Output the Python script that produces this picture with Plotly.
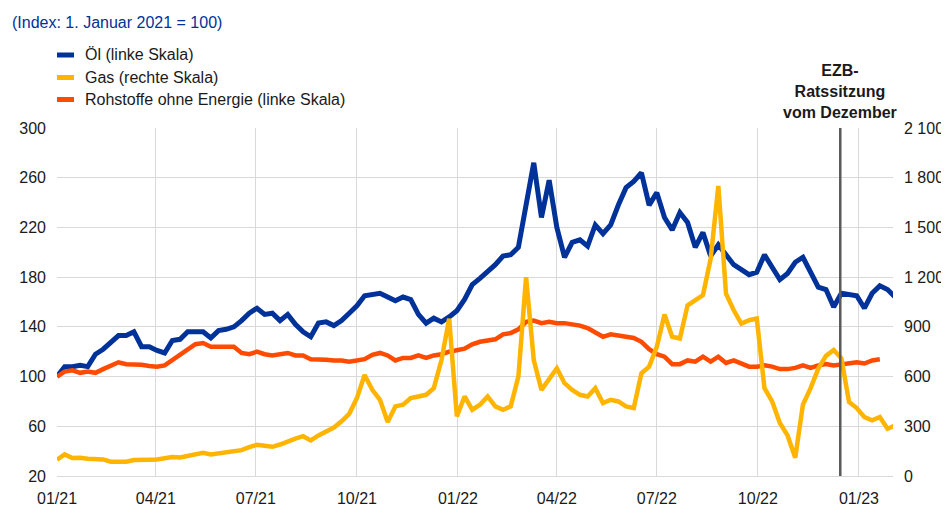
import pandas as pd
import plotly.graph_objects as go

# ---- data (weekly readings, index 1 Jan 2021 = 100) ----
dates = pd.date_range("2021-01-01", periods=110, freq="7D")

oil = [100, 108, 108, 109, 108, 118, 122, 127, 133, 133,
       136, 124, 124, 121, 119, 129, 130, 136, 136, 136,
       131, 137, 138, 140, 145, 151, 155, 150, 151, 145,
       150, 142, 136, 132, 143, 144, 141, 145, 151, 157,
       165, 166, 167, 164, 161, 164, 162, 150, 143, 147,
       144, 148, 153, 162, 174, 179, 184, 190, 197, 198,
       204, 240, 272, 228, 258, 220, 196, 208, 210, 205,
       222, 215, 222, 238, 252, 257, 264, 238, 248, 228,
       218, 232, 224, 204, 216, 197, 206, 198, 190, 186,
       182, 184, 198, 188, 178, 183, 192, 196, 183, 172,
       170, 156, 167, 166, 165, 155, 167, 173, 170, 164]

non_energy = [100, 104, 105, 103, 104, 103, 106, 109, 111.5, 110,
              110, 109.5, 108.5, 108, 109, 113, 117, 121, 126, 127,
              124, 124, 124, 124, 119, 118, 120, 118, 117, 118,
              119, 117, 117, 114, 114, 113.5, 113, 113, 112, 113,
              114, 117.5, 119, 117, 113, 115, 115, 117, 115, 117,
              118, 120, 121, 122.5, 126, 128, 129, 130, 134, 135,
              138, 144, 145, 143, 144, 143, 143, 142, 141, 139,
              135, 132, 134, 133, 132, 131, 128, 122, 118, 116,
              110, 110, 113, 112, 116, 112, 116, 111, 113, 110,
              108, 108, 109, 108, 106, 106, 107, 109, 107, 109,
              110, 109, 110, 111, 111.5, 110.5, 113, 114, None, None]

gas = [98, 130, 108, 110, 104, 100, 100, 86, 84, 86,
       96, 94, 98, 100, 106, 114, 112, 122, 128, 140,
       130, 136, 146, 150, 156, 174, 188, 182, 176, 190,
       210, 225, 240, 215, 245, 268, 292, 330, 375, 470,
       610, 520, 460, 326, 420, 430, 470, 480, 490, 530,
       700, 950, 360, 480, 400, 430, 480, 420, 400, 420,
       600, 1200, 700, 520, 580, 650, 560, 520, 490, 480,
       530, 440, 460, 450, 420, 410, 620, 660, 780, 975,
       840, 830, 1030, 1061, 1092, 1310, 1750, 1100, 1000, 920,
       940, 950, 530, 450, 320, 245, 110, 430, 530, 648,
       725, 760, 710, 446, 410, 355, 336, 356, 285, 305]

left_ticks = [20, 60, 100, 140, 180, 220, 260, 300]
right_ticks = [0, 300, 600, 900, 1200, 1500, 1800, 2100]
right_labels = ["0", "300", "600", "900", "1 200", "1 500", "1 800", "2 100"]

series_names = ["Öl (linke Skala)", "Gas (rechte Skala)", "Rohstoffe ohne Energie (linke Skala)"]
colors = ["#003299", "#FFB400", "#FF4B00"]
meeting_date = "2022-12-15"

FONT = "Liberation Sans, Arial, sans-serif"
FS = 16
OFF = 8  # default page body margin
W, H = 949 - OFF, 516 - OFF
ML, MR, MT, MB = 57 - OFF, 56, 128 - OFF, 40
PW, PH = W - ML - MR, H - MT - MB


def px_x(x):
    return (x - OFF - ML) / PW


def px_y(y):
    return (H - MB - (y - OFF)) / PH


fig = go.Figure()
fig.add_trace(go.Scatter(x=dates, y=oil, mode="lines", name=series_names[0],
                         line=dict(color=colors[0], width=5), yaxis="y"))
fig.add_trace(go.Scatter(x=dates, y=non_energy, mode="lines", name=series_names[2],
                         line=dict(color=colors[2], width=4.5), yaxis="y"))
fig.add_trace(go.Scatter(x=dates, y=gas, mode="lines", name=series_names[1],
                         line=dict(color=colors[1], width=4.5), yaxis="y2"))

shapes = [dict(type="line", xref="x", yref="paper", x0=meeting_date, x1=meeting_date,
               y0=0, y1=1, line=dict(color="#595959", width=2.5), layer="above")]
annotations = [
    dict(text="(Index: 1. Januar 2021 = 100)", xref="paper", yref="paper",
         x=px_x(10), y=px_y(22), xanchor="left", yanchor="middle", showarrow=False,
         font=dict(family=FONT, size=FS, color="#003299")),
    dict(text="<b>EZB-<br>Ratssitzung<br>vom Dezember</b>", xref="x", yref="paper",
         x=meeting_date, y=1, xanchor="center", yanchor="bottom", yshift=5,
         showarrow=False, align="center",
         font=dict(family=FONT, size=FS, color="#1a1a1a")),
]
legend_y = [55, 77.5, 99.5]
for name, col, yy in zip(series_names, colors, legend_y):
    shapes.append(dict(type="line", xref="paper", yref="paper",
                       x0=px_x(57), x1=px_x(74), y0=px_y(yy), y1=px_y(yy),
                       line=dict(color=col, width=5)))
    annotations.append(dict(text=name, xref="paper", yref="paper", x=px_x(83), y=px_y(yy),
                            xanchor="left", yanchor="middle", showarrow=False,
                            font=dict(family=FONT, size=FS, color="#1a1a1a")))

fig.update_layout(
    width=W, height=H, autosize=False,
    margin=dict(l=ML, r=MR, t=MT, b=MB, pad=0, autoexpand=False),
    plot_bgcolor="white", paper_bgcolor="white",
    showlegend=False,
    font=dict(family=FONT, size=FS, color="#1a1a1a"),
    xaxis=dict(type="date", range=["2021-01-01", "2023-02-01"], tickformat="%m/%y",
               dtick="M3", tick0="2021-01-01", showgrid=True, gridcolor="#d9d9d9",
               gridwidth=1, showline=True, linecolor="#d9d9d9", linewidth=1,
               ticks="", zeroline=False, tickfont=dict(size=FS), ticklabelstandoff=8,
               automargin=False),
    yaxis=dict(range=[20, 300], tickvals=left_ticks, showgrid=True, gridcolor="#d9d9d9",
               gridwidth=1, zeroline=False, showline=False, ticks="",
               tickfont=dict(size=FS), ticklabelstandoff=10, automargin=False),
    yaxis2=dict(range=[0, 2100], tickvals=right_ticks, ticktext=right_labels,
                overlaying="y", side="right", showgrid=False, zeroline=False,
                showline=False, ticks="", tickfont=dict(size=FS), ticklabelstandoff=10,
                automargin=False),
    shapes=shapes,
    annotations=annotations,
)

fig.write_html("out.html")
